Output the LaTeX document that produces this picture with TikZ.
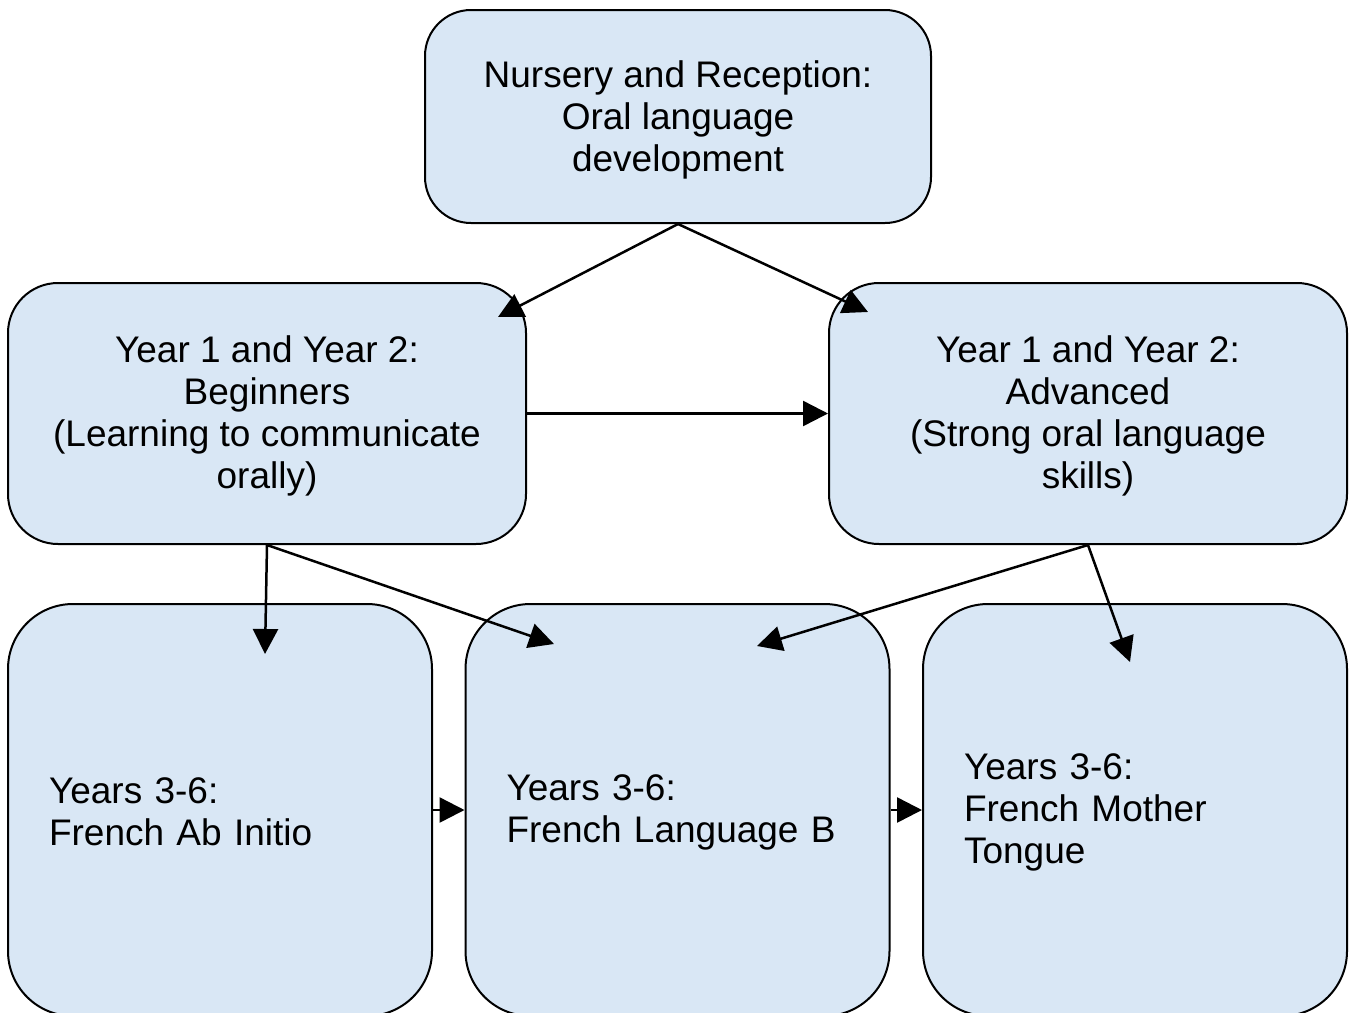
\documentclass[tikz,border=0pt]{standalone}
\usepackage{fontspec}
\setmainfont{Liberation Sans}
\usetikzlibrary{arrows.meta}
\definecolor{boxfill}{RGB}{217,231,245}
\tikzset{
  box/.style={draw=black, line width=2pt, fill=boxfill, inner sep=0pt},
  topbox/.style={box, rounded corners=46pt, minimum width=506pt, minimum height=213pt},
  midbox/.style={box, rounded corners=50pt, minimum width=518pt, minimum height=261pt},
  lowbox/.style={box, rounded corners=65pt, minimum width=424pt, minimum height=412pt},
  txt/.style={font=\fontsize{37}{42}\selectfont, align=center, inner sep=0pt},
  lowtxt/.style={txt, align=left, text width=342pt},
  arr/.style={line width=2.5pt, -{Triangle[length=25pt,width=25pt]}}
}
\begin{document}
\begin{tikzpicture}[x=1pt,y=-1pt]
\clip (0,0) rectangle (1354,1012);
\fill[white] (0,0) rectangle (1354,1012);
\node[topbox] (top) at (678,116.5) {};
\node[midbox] (ml) at (267,413.5) {};
\node[midbox] (mr) at (1088,413.5) {};
\node[lowbox] (bl) at (220,810) {};
\node[lowbox] (bm) at (677.5,810) {};
\node[lowbox] (br) at (1135,810) {};
\node[txt] (toptext) at ([yshift=-3pt]top.center) {Nursery and Reception:\\Oral language\\development};
\node[txt] (mltext) at ([yshift=-2pt]ml.center) {Year 1 and Year 2:\\Beginners\\(Learning to communicate\\orally)};
\node[txt] (mrtext) at ([yshift=-2pt]mr.center) {Year 1 and Year 2:\\Advanced\\(Strong oral language\\skills)};
\node[lowtxt] (bltext) at ([yshift=-2pt]bl.center) {Years 3-6:\\French Ab Initio};
\node[lowtxt] (bmtext) at ([yshift=-2pt]bm.center) {Years 3-6:\\French Language B};
\node[lowtxt] (brtext) at ([yshift=-2pt]br.center) {Years 3-6:\\French Mother\\Tongue};
\coordinate (t1) at (498,317);
\coordinate (t2) at (868,312);
\coordinate (t4) at (265,654);
\coordinate (t5) at (554,644);
\coordinate (t6) at (757,646);
\coordinate (t7) at (1130,662);
\draw[arr] (top.south) -- (t1);
\draw[arr] (top.south) -- (t2);
\draw[arr] (ml.east) -- (mr.west);
\draw[arr] (ml.south) -- (t4);
\draw[arr] (ml.south) -- (t5);
\draw[arr] (mr.south) -- (t6);
\draw[arr] (mr.south) -- (t7);
\draw[arr] (bl.east) -- (bm.west);
\draw[arr] (bm.east) -- (br.west);
\end{tikzpicture}
\end{document}
